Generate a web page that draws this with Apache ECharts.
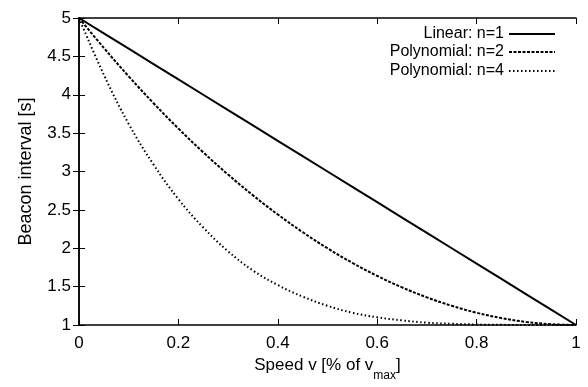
<!DOCTYPE html>
<html>
<head>
<meta charset="utf-8">
<script src="https://cdn.jsdelivr.net/npm/echarts@6/dist/echarts.min.js"></script>
<style>
  html, body { margin: 0; padding: 0; background: #fff; }
  #chart { width: 588px; height: 387px; }
</style>
</head>
<body>
<div id="chart"></div>
<script>
// Speed as a fraction of v_max
const speed = [0, 0.05, 0.1, 0.15, 0.2, 0.25, 0.3, 0.35, 0.4, 0.45, 0.5,
               0.55, 0.6, 0.65, 0.7, 0.75, 0.8, 0.85, 0.9, 0.95, 1];

// Beacon interval [s] for each scheme
const linearN1 = [5, 4.8, 4.6, 4.4, 4.2, 4.0, 3.8, 3.6, 3.4, 3.2, 3.0,
                  2.8, 2.6, 2.4, 2.2, 2.0, 1.8, 1.6, 1.4, 1.2, 1];
const polyN2 = [5, 4.61, 4.24, 3.89, 3.56, 3.25, 2.96, 2.69, 2.44, 2.21, 2.0,
                1.81, 1.64, 1.49, 1.36, 1.25, 1.16, 1.09, 1.04, 1.01, 1];
const polyN4 = [5, 4.26, 3.62, 3.09, 2.64, 2.27, 1.96, 1.71, 1.52, 1.37, 1.25,
                1.16, 1.10, 1.06, 1.03, 1.016, 1.006, 1.002, 1.0, 1.0, 1];

const seriesNames = ['Linear: n=1', 'Polynomial: n=2', 'Polynomial: n=4'];
const xTicks = [0, 0.2, 0.4, 0.6, 0.8, 1];
const yTicks = [1, 1.5, 2, 2.5, 3, 3.5, 4, 4.5, 5];

const FONT = 'Liberation Sans';
const pairs = (ys) => speed.map((x, i) => [x, ys[i]]);

const tickStyle = { show: true, inside: true, length: 6, lineStyle: { color: '#000', width: 1 } };
const lineStyleAxis = { show: true, lineStyle: { color: '#000', width: 1.5 } };

const chart = echarts.init(document.getElementById('chart'), null, { renderer: 'canvas' });

const legendRow = (name, top) => ({
  data: [name],
  orient: 'vertical',
  right: 32,
  top: top,
  align: 'right',
  itemWidth: 46,
  itemHeight: 12,
  padding: 0,
  selectedMode: false,
  itemStyle: { opacity: 0 },
  textStyle: { fontFamily: FONT, fontSize: 16, color: '#000' }
});

chart.setOption({
  animation: false,
  backgroundColor: '#fff',
  grid: { left: 79, right: 12, top: 18, bottom: 50, containLabel: false },
  legend: [
    legendRow(seriesNames[0], 26),
    legendRow(seriesNames[1], 44),
    legendRow(seriesNames[2], 63)
  ],
  xAxis: [
    {
      type: 'value', min: 0, max: 1, interval: 0.2,
      axisLine: lineStyleAxis, axisTick: tickStyle, splitLine: { show: false },
      axisLabel: {
        fontFamily: FONT, fontSize: 17, color: '#000', margin: 10,
        formatter: (v) => (xTicks.includes(v) ? String(v) : '')
      },
      name: '{n|Speed v [% of v}{s|max}{n|]}',
      nameLocation: 'middle', nameGap: 32,
      nameTextStyle: {
        rich: {
          n: { fontFamily: FONT, fontSize: 17, color: '#000' },
          s: { fontFamily: FONT, fontSize: 12, color: '#000', verticalAlign: 'bottom', padding: [0, 0, -8, 0] }
        }
      }
    },
    {
      type: 'value', min: 0, max: 1, interval: 0.2, position: 'top',
      axisLine: lineStyleAxis, axisTick: tickStyle, axisLabel: { show: false }, splitLine: { show: false }
    }
  ],
  yAxis: [
    {
      type: 'value', min: 1, max: 5, interval: 0.5,
      axisLine: lineStyleAxis, axisTick: tickStyle, splitLine: { show: false },
      axisLabel: {
        fontFamily: FONT, fontSize: 17, color: '#000', margin: 8,
        formatter: (v) => (yTicks.includes(v) ? String(v) : '')
      },
      name: 'Beacon interval [s]',
      nameLocation: 'middle', nameGap: 44,
      nameTextStyle: { fontFamily: FONT, fontSize: 18, color: '#000' }
    },
    {
      type: 'value', min: 1, max: 5, interval: 0.5, position: 'right',
      axisLine: lineStyleAxis, axisTick: tickStyle, axisLabel: { show: false }, splitLine: { show: false }
    }
  ],
  series: [
    {
      name: seriesNames[0], type: 'line', data: pairs(linearN1),
      symbol: 'none', showSymbol: false,
      lineStyle: { color: '#000', width: 2, type: 'solid' }, itemStyle: { color: '#000' }
    },
    {
      name: seriesNames[1], type: 'line', data: pairs(polyN2),
      symbol: 'none', showSymbol: false, smooth: 0.4,
      lineStyle: { color: '#000', width: 2, type: [3, 1.5] }, itemStyle: { color: '#000' }
    },
    {
      name: seriesNames[2], type: 'line', data: pairs(polyN4),
      symbol: 'none', showSymbol: false, smooth: 0.4,
      lineStyle: { color: '#000', width: 2, type: [1.5, 2.5] }, itemStyle: { color: '#000' }
    }
  ]
});
</script>
</body>
</html>
